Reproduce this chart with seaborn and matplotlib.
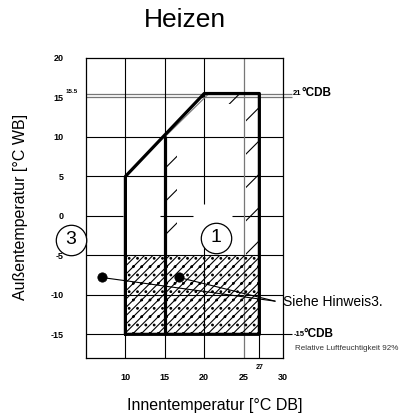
import numpy as np
import pandas as pd
import matplotlib
matplotlib.use("Agg")
import matplotlib.pyplot as plt
import seaborn as sns

# operating range, heating mode
title = "Heizen"
x_label = "Innentemperatur [°C DB]"
y_label = "Außentemperatur [°C WB]"

x_ticks = [10, 15, 20, 25, 30]
y_ticks = [-15, -10, -5, 0, 5, 10, 15, 20]

boundary_x = [10, 10, 20, 27, 27, 10]
boundary_y = [-15, 5, 15.5, 15.5, -15, -15]
divider_x = [15, 15]
divider_y = [10, -15]

dense_x = [10, 27, 27, 10]
dense_y = [-5, -5, -15, -15]

points_x = [7.0, 16.8]
points_y = [-7.8, -7.8]
note_x, note_y = 29.0, -10.8
note_text = "Siehe Hinweis3."

circle_x = [3.1, 21.5]
circle_y = [-3.0, -2.8]
circle_labels = ["3", "1"]

top_limit = 15.5
bottom_limit = -15
humidity_text = "Relative Luftfeuchtigkeit 92%"

sns.set_style("white")
plt.rcParams["font.family"] = ["Liberation Sans", "DejaVu Sans"]
plt.rcParams["hatch.linewidth"] = 0.8
plt.rcParams["text.color"] = "black"
plt.rcParams["xtick.color"] = "black"
plt.rcParams["ytick.color"] = "black"
narrow = ["Liberation Sans Narrow", "Liberation Sans", "DejaVu Sans"]

fig = plt.figure(figsize=(3.99, 4.19), dpi=100)
ax = fig.add_axes([86 / 399, 1 - 358 / 419, 197 / 399, 300 / 419])
ax.set_xlim(5, 30)
ax.set_ylim(-18, 20)

# grid
k = "black"
g = "#777777"
ax.hlines([10, 5, -5, -10], 5, 30, color=k, lw=0.8, zorder=2)
ax.hlines([0, 0, 0], [5, 14.4, 23.5], [9.7, 18.6, 30], color=k, lw=0.8, zorder=2)
ax.hlines([15, top_limit], 5, 31.1, color=g, lw=0.9, zorder=2, clip_on=False)
ax.hlines([bottom_limit], 5, 31.1, color=k, lw=0.8, zorder=2, clip_on=False)
ax.vlines([10, 15], [5, 10], 20, color=k, lw=0.8, zorder=2)
ax.vlines([10, 15, 27], -18, -15, color=k, lw=0.8, zorder=2)
ax.vlines([20, 20], [1.5, -18], [20, -3.5], color=k, lw=0.8, zorder=2)
ax.vlines([25], -18, 20, color=g, lw=0.9, zorder=2)
ax.plot([15, 20.6], [10, 15.5], color=g, lw=0.8, zorder=2)

# hatched edges of zone 1
ax.fill([15, 16.5, 16.5, 15], [-5, -5, 10, 10], hatch="/", facecolor="none",
        edgecolor=k, lw=0, zorder=3)
ax.fill([20.6, 27, 27, 19.2], [14.2, 14.2, 15.5, 15.5], hatch="/", facecolor="none",
        edgecolor=k, lw=0, zorder=3)
ax.fill([25.3, 27, 27, 25.3], [-5, -5, 14.2, 14.2], hatch="/", facecolor="none",
        edgecolor=k, lw=0, zorder=3)
ax.fill(dense_x, dense_y, hatch="////..", facecolor="none", edgecolor=k, lw=0, zorder=3)

# thick outline
outline = pd.DataFrame({"x": boundary_x, "y": boundary_y})
sns.lineplot(data=outline, x="x", y="y", sort=False, estimator=None, color=k,
             lw=2.3, ax=ax, zorder=4)
ax.plot(divider_x, divider_y, color=k, lw=2.3, zorder=4)

# note points
for px, py in zip(points_x, points_y):
    ax.plot([px, note_x], [py, note_y], color=k, lw=0.8, zorder=5, clip_on=False)
sns.scatterplot(x=points_x, y=points_y, color=k, s=45, edgecolor=k, ax=ax, zorder=6)
ax.text(30.0, note_y - 0.1, note_text, fontsize=10, va="center", ha="left")

# circled labels
sns.scatterplot(x=circle_x, y=circle_y, s=480, facecolor="white", edgecolor=k,
                linewidth=0.9, ax=ax, zorder=7, clip_on=False)
for cx, cy, lab in zip(circle_x, circle_y, circle_labels):
    ax.text(cx, cy, lab, fontsize=14, ha="center", va="center", zorder=8)

# limit labels on the right
ax.text(31.3, top_limit, "21", fontsize=5.5, fontweight="bold", family=narrow,
        va="center", ha="left")
ax.text(32.4, top_limit + 0.1, "°CDB", fontsize=8.5, fontweight="bold", family=narrow,
        va="center", ha="left")
ax.text(31.3, bottom_limit, "-15", fontsize=5.5, fontweight="bold", family=narrow,
        va="center", ha="left")
ax.text(32.6, bottom_limit + 0.1, "°CDB", fontsize=8.5, fontweight="bold", family=narrow,
        va="center", ha="left")
ax.text(31.5, -16.8, humidity_text, fontsize=5.8, va="center", ha="left", color="#333333")

# ticks
ax.set_xticks(x_ticks)
ax.set_yticks(y_ticks)
ax.set_xticklabels([str(v) for v in x_ticks], fontsize=6.5, fontweight="bold", family=narrow)
ax.set_yticklabels([str(v) for v in y_ticks], fontsize=6.5, fontweight="bold", family=narrow)
ax.tick_params(length=0)
ax.tick_params(axis="x", pad=11)
ax.tick_params(axis="y", pad=16)
ax.text(27, -19.2, "27", fontsize=5, fontweight="bold", family=narrow, ha="center",
        va="center", clip_on=False)
ax.text(3.2, top_limit + 0.3, "15.5", fontsize=4.5, fontweight="bold", family=narrow,
        ha="center", va="center", clip_on=False)

for s in ax.spines.values():
    s.set_visible(True)
    s.set_color(k)
    s.set_linewidth(0.9)
ax.set_xlabel("")
ax.set_ylabel("")

fig.text(184.5 / 399, 1 - 20 / 419, title, fontsize=19, ha="center", va="center")
fig.text(214.5 / 399, 1 - 405 / 419, x_label, fontsize=11.5, ha="center", va="center")
fig.text(21 / 399, 1 - 207 / 419, y_label, fontsize=11.5, ha="center", va="center",
         rotation=90)

fig.savefig("out.png", dpi=100)
